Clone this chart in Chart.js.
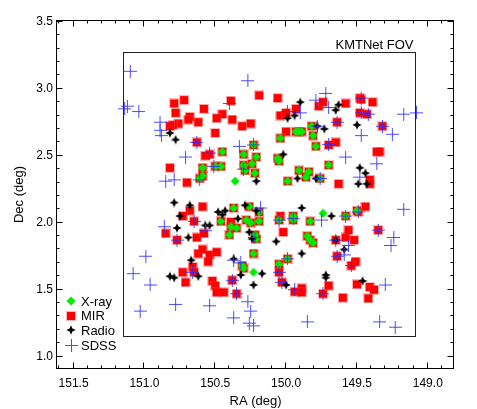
<!DOCTYPE html>
<html>
<head>
<meta charset="utf-8">
<script src="https://cdn.jsdelivr.net/npm/chart.js@4.4.0/dist/chart.umd.min.js"></script>
<style>html,body{margin:0;padding:0;background:#fff}</style>
</head>
<body>
<canvas id="sky" width="477" height="409"></canvas>
<script>
// [RA, Dec] in degrees
const xrayMir = [
  [150.45,2.53],[150.59,2.41],[150.61,2.33],[150.59,2.35],[150.50,2.42],[150.46,2.42],
  [150.30,2.51],[150.30,2.43],[150.29,2.39],[150.24,2.44],[150.22,2.37],[150.21,2.49],
  [150.23,2.58],[150.06,2.48],[150.05,2.46],[150.04,2.63],[149.99,2.31],[149.93,2.68],
  [149.91,2.68],[149.89,2.68],[149.82,2.72],[149.81,2.65],[149.79,2.57],[149.91,2.39],
  [149.86,2.34],[149.84,2.38],[149.76,2.33],[149.70,2.43],
  [150.37,2.11],[150.26,2.12],[150.46,2.01],[150.39,1.97],[150.35,1.96],[150.40,1.91],
  [150.28,2.02],[150.25,2.00],[150.19,2.01],[150.19,2.08],[150.22,1.91],[150.21,1.88],
  [150.23,1.77],[150.31,1.68],[150.30,1.66],[150.05,2.02],[149.95,2.02],[149.95,2.05],
  [149.83,2.01],[149.85,1.90],[149.83,1.87],[149.81,1.85],[150.05,1.69],[149.99,1.73],
  [149.58,2.05],[149.50,2.09]
];
const xrayOnly = [[150.36,2.31],[150.23,1.63],[149.74,2.07]];
const mirOnly = [
  [150.79,2.89],[150.72,2.915],[150.58,2.85],[150.78,2.82],[150.68,2.79],[150.69,2.77],
  [150.76,2.74],[150.80,2.73],[150.82,2.72],[150.62,2.75],[150.45,2.81],[150.49,2.78],
  [150.39,2.91],[150.38,2.77],[150.50,2.67],[150.31,2.72],[150.25,2.74],[150.19,2.95],
  [150.06,2.93],[150.04,2.80],[150.00,2.82],[149.93,2.85],[150.00,2.68],[149.77,2.87],
  [149.74,2.90],[149.64,2.75],[149.58,2.89],[149.48,2.93],[149.47,2.92],[149.39,2.90],
  [149.48,2.82],[149.43,2.81],[149.32,2.72],[149.65,2.60],[149.70,2.58],[149.36,2.53],
  [149.34,2.53],[149.41,2.32],[149.41,2.29],[149.63,2.29],[150.63,2.60],[150.57,2.50],
  [150.54,2.51],[150.82,2.41],[150.70,2.30],
  [150.68,2.09],[150.59,2.12],[150.73,2.05],[150.85,1.92],[150.77,1.87],[150.63,1.89],
  [150.65,2.01],[150.58,1.92],[150.62,1.77],[150.59,1.80],[150.54,1.76],[150.49,1.78],
  [150.55,1.71],[150.73,1.63],[150.66,1.67],[150.65,1.63],[150.71,1.555],[150.52,1.565],
  [150.50,1.53],[150.49,1.48],[150.44,1.48],[150.38,1.57],[150.35,1.47],[150.39,2.005],
  [150.04,2.05],[150.02,1.93],[150.05,1.63],[150.03,1.555],[149.94,1.485],[149.89,1.51],
  [149.89,1.48],[149.74,1.47],[149.70,1.53],[149.65,1.87],[149.64,1.75],[149.58,1.89],
  [149.56,1.945],[149.52,1.87],[149.51,1.71],[149.54,1.68],[149.50,1.54],[149.49,2.08],
  [149.44,2.12],[149.35,1.945],[149.41,1.52],[149.38,1.50],[149.42,1.435],[149.60,1.44]
];
const radio = [
  [150.82,2.67],[150.78,2.62],[149.90,2.90],[149.94,2.80],[149.99,2.78],[149.78,2.72],
  [149.73,2.70],[149.63,2.88],[149.65,2.84],[149.50,2.73],[150.02,2.51],[150.21,2.31],
  [149.92,2.33],[149.79,2.33],[149.48,2.41],[149.44,2.37],[149.49,2.29],[149.43,2.29],
  [150.79,2.15],[150.68,2.13],[150.75,2.05],[150.77,1.96],[150.69,1.89],[150.57,1.98],
  [150.54,1.98],[150.48,2.08],[150.43,2.09],[150.45,2.06],[150.34,2.03],[150.29,2.13],
  [150.21,2.09],[150.26,1.93],[150.24,1.88],[150.67,1.72],[150.82,1.60],[150.79,1.59],
  [150.62,1.60],[150.37,1.73],[150.32,1.61],[150.23,1.535],[150.17,1.62],[150.07,1.86],
  [149.89,2.11],[149.89,1.77],[150.00,1.535],[149.68,2.05],[149.72,1.61],[149.72,1.59],
  [149.65,1.87],[149.59,1.80],[149.46,1.565]
];
const sdss = [
  [151.10,3.13],[151.14,2.85],[151.12,2.87],[151.04,2.83],[150.27,3.06],[150.89,2.75],
  [150.89,2.69],[150.88,2.65],[150.71,2.49],[150.79,2.32],[150.85,2.31],[150.63,2.60],
  [150.54,2.52],[150.40,2.89],[150.51,2.42],[150.61,2.32],[150.33,2.57],[150.30,2.40],
  [150.23,2.58],[150.18,2.11],[149.99,2.83],[149.90,2.82],[149.79,2.915],[149.72,2.965],
  [149.70,2.86],[149.70,2.585],[149.64,2.75],[149.78,2.72],[149.76,2.33],[149.58,2.49],
  [149.47,2.65],[149.47,2.82],[149.42,2.81],[149.47,2.93],[149.48,2.34],[149.36,2.44],
  [149.32,2.72],[149.25,2.66],[149.17,2.81],[149.08,2.82],[149.17,2.10],[149.24,1.89],
  [149.26,1.83],[149.30,1.535],[149.34,1.26],[149.23,1.22],[149.35,1.945],[149.49,2.08],
  [149.58,2.05],[149.56,1.83],[149.59,1.76],[149.65,1.87],[149.64,1.75],[149.54,1.68],
  [149.74,1.47],[149.85,1.26],[149.95,2.03],[150.05,2.02],[149.75,2.02],[149.99,1.73],
  [150.05,1.63],[150.03,1.555],[149.94,1.50],[150.27,1.41],[150.25,1.34],[150.37,1.29],
  [150.26,1.25],[150.23,1.23],[150.35,1.47],[150.38,1.57],[150.37,1.72],[150.32,1.70],
  [150.54,1.38],[150.78,1.39],[151.03,1.34],[150.96,1.535],[151.08,1.62],[150.99,1.75],
  [150.86,1.97],[150.77,1.87],[150.65,2.01],[150.57,1.94],[150.66,1.63],[150.22,1.89]
];
const seriesNames = ['X-ray', 'MIR', 'Radio', 'SDSS'];
const raTicks = [151.5, 151.0, 150.5, 150.0, 149.5, 149.0];
const decTicks = [1.0, 1.5, 2.0, 2.5, 3.0, 3.5];
const raRange = [148.815, 151.617];
const decRange = [0.908, 3.513];
const fovBox = [151.148, 149.087, 1.157, 3.272]; // RA left, RA right, Dec bottom, Dec top

const FONT = '"Liberation Sans", Arial, Helvetica, sans-serif';

function marker(size, draw) {
  const c = document.createElement('canvas');
  c.width = size; c.height = size;
  draw(c.getContext('2d'), size / 2);
  return c;
}
const greenDiamond = marker(10, (g, m) => {
  g.fillStyle = 'rgb(0,235,0)';
  g.beginPath();
  g.moveTo(m, m - 4.5); g.lineTo(m + 4.5, m); g.lineTo(m, m + 4.5); g.lineTo(m - 4.5, m);
  g.closePath(); g.fill();
});
const redSquare = marker(10, (g, m) => {
  g.fillStyle = 'rgba(255,70,70,0.4)';
  g.fillRect(0, 0, 10, 10);
  g.fillStyle = '#ff0000';
  g.fillRect(1, 1, 8, 8);
});
const blackStar = marker(10, (g, m) => {
  g.fillStyle = '#000';
  g.beginPath();
  for (let i = 0; i < 8; i++) {
    const a = i * Math.PI / 4 - Math.PI / 2;
    const r = i % 2 === 0 ? 4.7 : 2.0;
    g.lineTo(m + r * Math.cos(a), m + r * Math.sin(a));
  }
  g.closePath(); g.fill();
});
const blueCross = marker(13, (g, m) => {
  g.strokeStyle = 'rgba(45,45,255,0.85)';
  g.lineWidth = 1;
  g.beginPath();
  g.moveTo(0, m); g.lineTo(13, m);
  g.moveTo(m, 0); g.lineTo(m, 13);
  g.stroke();
});
const markers = [greenDiamond, redSquare, blackStar, blueCross];

const toXY = p => ({ x: p[0], y: p[1] });

// frame with inward ticks on all sides, FOV box, legend
const decorations = {
  id: 'decorations',
  afterDatasetsDraw(chart) {
    const { ctx, chartArea: a, scales: { x, y } } = chart;
    ctx.save();
    ctx.strokeStyle = '#000';
    ctx.lineWidth = 1;
    const L = Math.round(a.left) - 0.5, R = Math.round(a.right) - 0.5;
    const T = Math.round(a.top) + 0.5, B = Math.round(a.bottom) - 0.5;
    ctx.strokeRect(L, T, R - L, B - T);

    ctx.beginPath();
    for (let k = Math.ceil(raRange[0] * 10); k <= raRange[1] * 10; k++) {
      const px = Math.round(x.getPixelForValue(k / 10)) - 0.5;
      const len = k % 5 === 0 ? 6 : 3;
      ctx.moveTo(px, B); ctx.lineTo(px, B - len);
      ctx.moveTo(px, T); ctx.lineTo(px, T + len);
    }
    for (let k = Math.ceil(decRange[0] * 10); k <= decRange[1] * 10; k++) {
      const py = Math.round(y.getPixelForValue(k / 10)) - 0.5;
      const len = k % 5 === 0 ? 6 : 3;
      ctx.moveTo(L, py); ctx.lineTo(L + len, py);
      ctx.moveTo(R, py); ctx.lineTo(R - len, py);
    }
    ctx.stroke();

    // KMTNet field of view
    const bx0 = Math.round(x.getPixelForValue(fovBox[0])) + 0.5;
    const bx1 = Math.round(x.getPixelForValue(fovBox[1])) + 0.5;
    const by0 = Math.round(y.getPixelForValue(fovBox[3])) + 0.5;
    const by1 = Math.round(y.getPixelForValue(fovBox[2])) + 0.5;
    ctx.strokeStyle = '#222';
    ctx.strokeRect(bx0, by0, bx1 - bx0, by1 - by0);
    ctx.fillStyle = '#000';
    ctx.font = '13px ' + FONT;
    ctx.textAlign = 'right';
    ctx.textBaseline = 'alphabetic';
    ctx.fillText('KMTNet FOV', bx1 - 2, by0 - 4);

    // legend
    ctx.textAlign = 'left';
    ctx.textBaseline = 'middle';
    seriesNames.forEach((name, i) => {
      const ry = 301 + i * 14.7;
      const m = markers[i];
      ctx.drawImage(m, Math.round(71 - m.width / 2), Math.round(ry - m.height / 2));
      ctx.fillText(name, 81, ry + 1);
    });
    ctx.restore();
  }
};

new Chart(document.getElementById('sky'), {
  type: 'scatter',
  data: {
    datasets: [
      { label: 'SDSS', data: sdss.map(toXY), pointStyle: blueCross },
      { label: 'Radio', data: radio.map(toXY), pointStyle: blackStar },
      { label: 'X-ray', data: xrayMir.concat(xrayOnly).map(toXY), pointStyle: greenDiamond },
      { label: 'MIR', data: mirOnly.concat(xrayMir).map(toXY), pointStyle: redSquare }
    ]
  },
  options: {
    responsive: false,
    animation: false,
    devicePixelRatio: 1,
    layout: { padding: { left: 0, right: 23, top: 20, bottom: 0 } },
    plugins: { legend: { display: false }, tooltip: { enabled: false } },
    elements: { point: { radius: 5, hoverRadius: 5 } },
    scales: {
      x: {
        type: 'linear',
        reverse: true,
        min: raRange[0],
        max: raRange[1],
        grid: { display: false, drawTicks: false },
        border: { display: false },
        afterBuildTicks: s => { s.ticks = raTicks.map(v => ({ value: v })); },
        afterFit: s => { s.height = 40; },
        ticks: {
          padding: 7,
          maxRotation: 0,
          color: '#000',
          font: { family: FONT, size: 12 },
          callback: v => v.toFixed(1)
        },
        title: {
          display: true,
          text: 'RA (deg)',
          color: '#000',
          font: { family: FONT, size: 13 },
          padding: { top: 4, bottom: 0 }
        }
      },
      y: {
        type: 'linear',
        min: decRange[0],
        max: decRange[1],
        grid: { display: false, drawTicks: false },
        border: { display: false },
        afterBuildTicks: s => { s.ticks = decTicks.map(v => ({ value: v })); },
        afterFit: s => { s.width = 57; },
        ticks: {
          padding: 4,
          color: '#000',
          font: { family: FONT, size: 12 },
          callback: v => v.toFixed(1)
        },
        title: {
          display: true,
          text: 'Dec (deg)',
          color: '#000',
          font: { family: FONT, size: 13 },
          padding: { top: 12, bottom: 0 }
        }
      }
    }
  },
  plugins: [decorations]
});
</script>
</body>
</html>
